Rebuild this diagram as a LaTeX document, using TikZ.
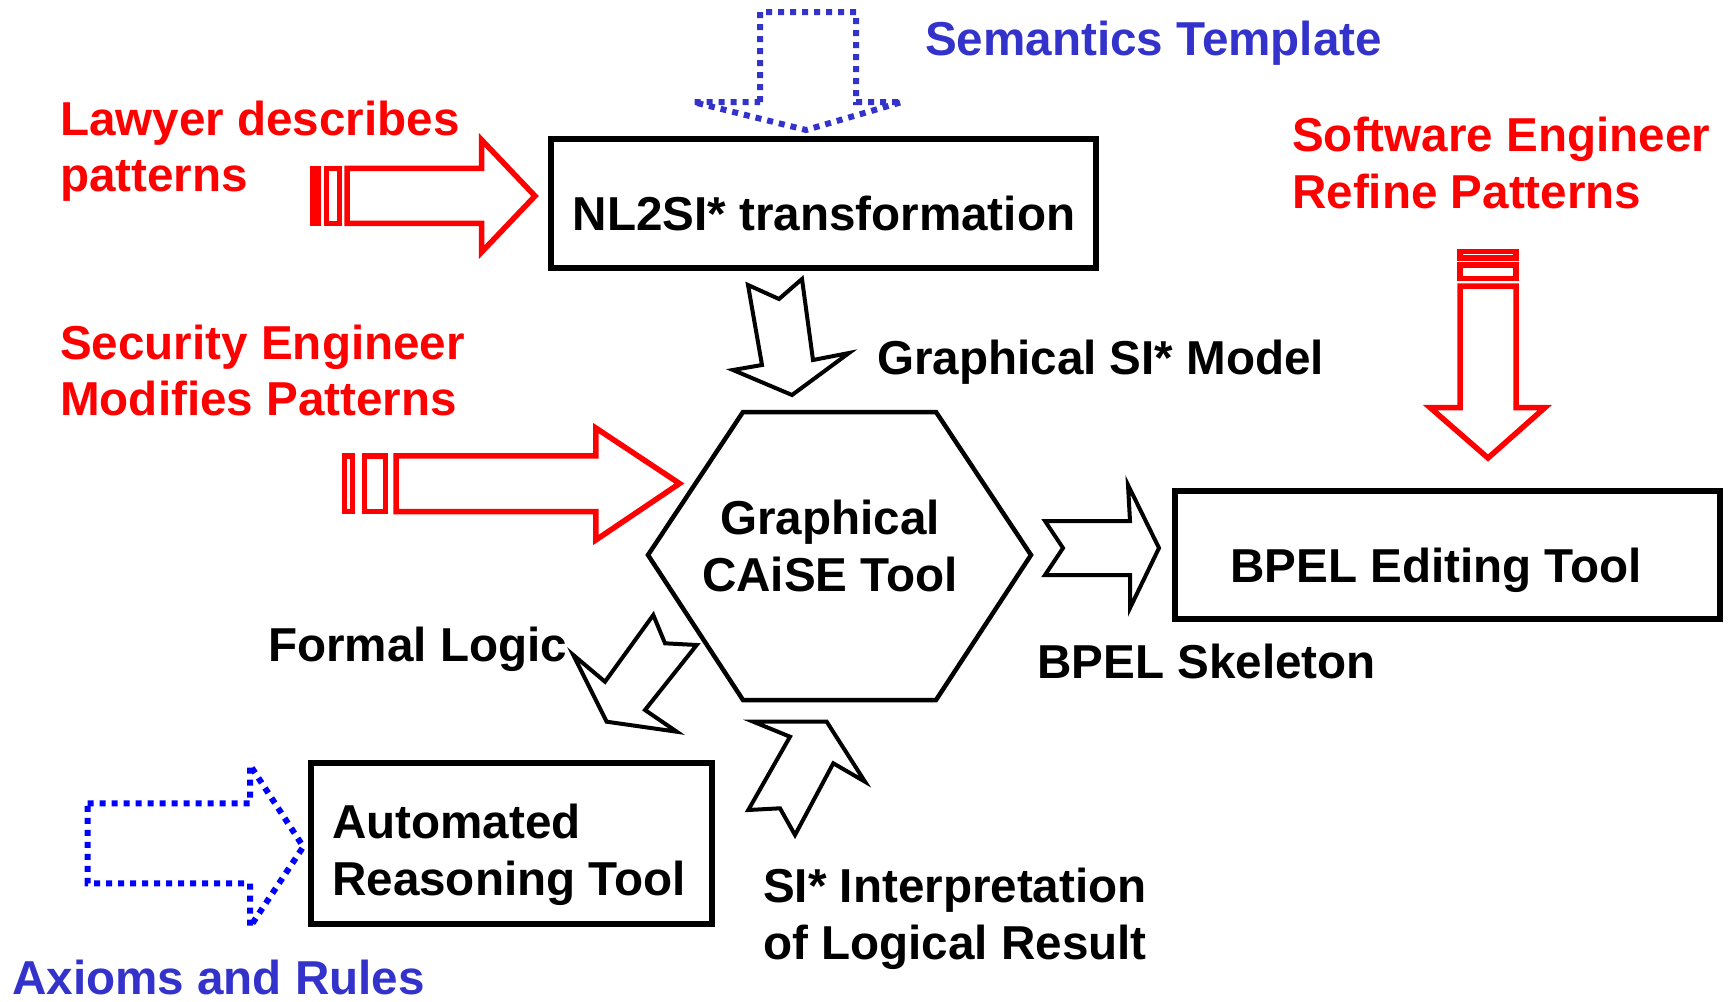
\documentclass[tikz,border=0pt]{standalone}
\usepackage{fontspec}
\setmainfont{Liberation Sans}
\definecolor{sblue}{HTML}{3333CC}
\definecolor{pblue}{HTML}{0000FF}
\definecolor{pred}{HTML}{FF0000}
\begin{document}
\begin{tikzpicture}[x=1pt,y=-1pt,
  txt/.style={font=\fontsize{47.6}{56}\selectfont\bfseries, inner sep=0pt, anchor=base west},
  ctxt/.style={txt, anchor=base},
  redtxt/.style={txt, text=pred},
  bluetxt/.style={txt, text=sblue},
  boxstyle/.style={draw=black, line width=5.5pt},
  blockarrow/.style={draw=black, line width=4pt, line join=miter},
  redarrow/.style={draw=pred, line width=5.5pt, line join=miter},
  dotarrow/.style={line width=6pt, dash pattern=on 6pt off 6pt, line join=miter}
]
\useasboundingbox (0,0) rectangle (1731,1001);

% boxes
\draw[boxstyle] (551,139) rectangle (1096,268);
\draw[boxstyle] (1175,491) rectangle (1720,619);
\draw[boxstyle] (311,763) rectangle (712,924);

% hexagon
\draw[boxstyle, line width=4.5pt, line join=miter] (743,412) -- (936,412) -- (1031,555) -- (936,700) -- (743,700) -- (648,555) -- cycle;

% texts
\node[ctxt] (nl) at (824,230) {NL2SI* transformation};
\node[ctxt] (bpel) at (1436,582) {BPEL Editing Tool};
\node[ctxt] (caise1) at (830,534) {Graphical};
\node[ctxt] (caise2) at (830,591) {CAiSE Tool};
\node[txt] (ar1) at (332,838) {Automated};
\node[txt] (ar2) at (332,895) {Reasoning Tool};
\node[txt] (gsm) at (877,374) {Graphical SI* Model};
\node[txt] (skel) at (1037,678) {BPEL Skeleton};
\node[txt] (fl) at (268,661) {Formal Logic};
\node[txt] (si1) at (763,902) {SI* Interpretation};
\node[txt] (si2) at (763,959) {of Logical Result};
\node[bluetxt] (sem) at (925,55) {Semantics Template};
\node[bluetxt] (ax) at (12,994) {Axioms and Rules};
\node[redtxt] (law1) at (60,135) {Lawyer describes};
\node[redtxt] (law2) at (60,191) {patterns};
\node[redtxt] (sw1) at (1292,151) {Software Engineer};
\node[redtxt] (sw2) at (1292,208) {Refine Patterns};
\node[redtxt] (se1) at (60,359) {Security Engineer};
\node[redtxt] (se2) at (60,415) {Modifies Patterns};

% black block arrows
\draw[blockarrow] (748,285) -- (779,299) -- (802,279) -- (813,360) -- (849,353) -- (792,395) -- (733,370) -- (762,365) -- cycle;
\draw[blockarrow] (1045,521) -- (1130,521) -- (1128,485) -- (1159,548) -- (1130,608) -- (1130,575) -- (1045,575) -- (1063,548) -- cycle;
\draw[blockarrow] (573.3,655) -- (605,681.7) -- (653.3,615) -- (665,643.3) -- (696.7,645) -- (645,710) -- (676.7,731.7) -- (606.7,721.7) -- cycle;
\draw[blockarrow] (753.3,721.7) -- (790,736.7) -- (748.3,810) -- (780,808.3) -- (795,835) -- (833.3,763.3) -- (865,781.7) -- (826.7,721.7) -- cycle;

% red striped arrows
\draw[redarrow] (313,168.3) rectangle (318.7,223.3);
\draw[redarrow] (326.6,168.3) rectangle (339.3,223.3);
\draw[redarrow] (347,168.3) -- (481.7,168.3) -- (481.7,140) -- (535,196) -- (481.7,252) -- (481.7,223.3) -- (347,223.3) -- cycle;

\draw[redarrow] (344.5,455.8) rectangle (352.3,511.5);
\draw[redarrow] (364.5,455.8) rectangle (385.5,511.5);
\draw[redarrow] (396,455.8) -- (595.8,455.8) -- (595.8,428) -- (679.5,483.5) -- (595.8,540) -- (595.8,511.5) -- (396,511.5) -- cycle;

\draw[redarrow] (1460,251.5) rectangle (1516,258);
\draw[redarrow] (1460,265) rectangle (1516,278.5);
\draw[redarrow] (1460,286) -- (1460,407.5) -- (1430,407.5) -- (1488,458) -- (1545,407.5) -- (1516,407.5) -- (1516,286) -- cycle;

% dotted blue arrows
\draw[dotarrow, draw=sblue] (760,102) -- (760,12) -- (856,12) -- (856,102) -- (902,102) -- (806,130) -- (693,102) -- cycle;
\draw[dotarrow, draw=pblue] (87.7,803.3) -- (250,803.3) -- (250,765) -- (303.3,846.7) -- (250,927) -- (250,883.3) -- (87.7,883.3) -- cycle;
\end{tikzpicture}
\end{document}
